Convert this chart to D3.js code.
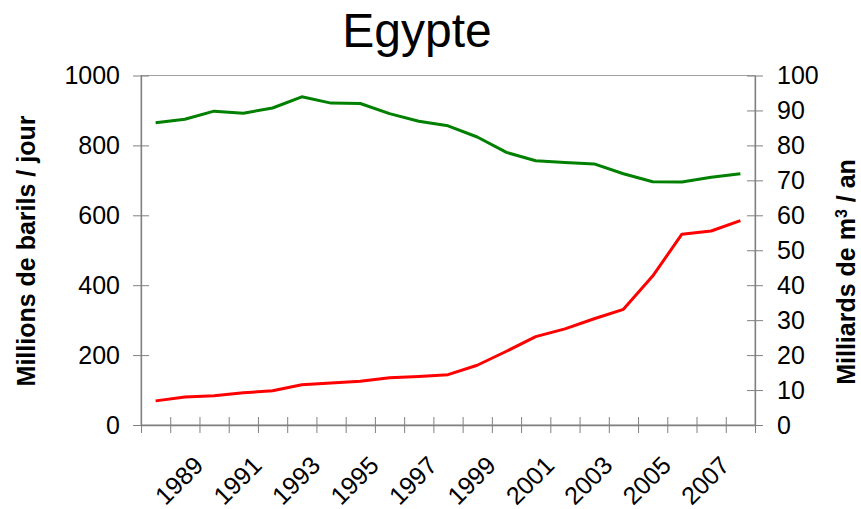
<!DOCTYPE html>
<html>
<head>
<meta charset="utf-8">
<script src="https://cdn.jsdelivr.net/npm/d3@7"></script>
<style>
  body { margin: 0; background: #fff; }
  text { font-family: "Liberation Sans", Arial, sans-serif; }
</style>
</head>
<body>
<div id="chart"></div>
<script>
// ---------------  DATA  ---------------
const years = [1988, 1989, 1990, 1991, 1992, 1993, 1994, 1995, 1996, 1997, 1998,
               1999, 2000, 2001, 2002, 2003, 2004, 2005, 2006, 2007, 2008];
const yearLabels = [1989, 1991, 1993, 1995, 1997, 1999, 2001, 2003, 2005, 2007];
const oil = [865, 875, 898, 892, 907, 939, 921, 920, 891, 869, 856,
             824, 780, 756, 751, 747, 719, 696, 695, 709, 719];
const gas = [6.9, 8.0, 8.4, 9.2, 9.8, 11.5, 12.0, 12.5, 13.5, 13.9, 14.4,
             17.1, 21.1, 25.3, 27.5, 30.4, 33.1, 42.6, 54.6, 55.5, 58.5];
const leftTicks = [0, 200, 400, 600, 800, 1000];
const rightTicks = [0, 10, 20, 30, 40, 50, 60, 70, 80, 90, 100];

// ---------------  INITIALIZATION  ---------------
const width = 861;
const height = 509;
const plot = { left: 141, right: 755, top: 75.5, bottom: 425 };

const svg = d3.select("#chart")
  .append("svg")
  .attr("width", width)
  .attr("height", height);

const x = d3.scaleBand()
  .domain(years)
  .range([plot.left, plot.right])
  .padding(0);
const xEdges = d3.scaleLinear()
  .domain([0, years.length])
  .range([plot.left, plot.right]);
const yLeft = d3.scaleLinear().domain([0, 1000]).range([plot.bottom, plot.top]);
const yRight = d3.scaleLinear().domain([0, 100]).range([plot.bottom, plot.top]);

// plot border
svg.append("rect")
  .attr("x", plot.left)
  .attr("y", plot.top)
  .attr("width", plot.right - plot.left)
  .attr("height", plot.bottom - plot.top)
  .attr("fill", "none")
  .attr("stroke", "#a0a0a0")
  .attr("stroke-width", 1);

// ---------------  AXES  ---------------
function styleAxis(g, horizontal) {
  g.select(".domain").attr("stroke", "#808080").attr("stroke-width", 1.3);
  g.selectAll(".tick line")
    .attr("stroke", "#808080")
    .attr(horizontal ? "y1" : "x1", -8)
    .attr(horizontal ? "y2" : "x2", 8);
  g.selectAll(".tick text")
    .attr("fill", "#000")
    .style("font-size", "25px");
}

const gLeft = svg.append("g")
  .attr("transform", `translate(${plot.left},0)`)
  .call(d3.axisLeft(yLeft).tickValues(leftTicks).tickFormat(d3.format("d"))
    .tickSize(0).tickPadding(21).tickSizeOuter(0));
styleAxis(gLeft, false);

const gRight = svg.append("g")
  .attr("transform", `translate(${plot.right},0)`)
  .call(d3.axisRight(yRight).tickValues(rightTicks).tickFormat(d3.format("d"))
    .tickSize(0).tickPadding(22).tickSizeOuter(0));
styleAxis(gRight, false);

const gBottom = svg.append("g")
  .attr("transform", `translate(0,${plot.bottom})`)
  .call(d3.axisBottom(xEdges).tickValues(d3.range(years.length + 1)).tickFormat("")
    .tickSize(0).tickSizeOuter(0));
styleAxis(gBottom, true);

// rotated year labels
svg.append("g")
  .selectAll("text")
  .data(yearLabels)
  .enter()
  .append("text")
  .attr("transform", d => `translate(${x(d) + x.bandwidth() / 2 + 20},467) rotate(-45)`)
  .attr("text-anchor", "end")
  .style("font-size", "25px")
  .attr("fill", "#000")
  .text(d => d);

// ---------------  LINES  ---------------
const lineOil = d3.line()
  .x((d, i) => x(years[i]) + x.bandwidth() / 2)
  .y(d => yLeft(d));
const lineGas = d3.line()
  .x((d, i) => x(years[i]) + x.bandwidth() / 2)
  .y(d => yRight(d));

svg.append("path")
  .datum(oil)
  .attr("d", lineOil)
  .attr("fill", "none")
  .attr("stroke", "#008000")
  .attr("stroke-width", 3)
  .attr("stroke-linejoin", "round");

svg.append("path")
  .datum(gas)
  .attr("d", lineGas)
  .attr("fill", "none")
  .attr("stroke", "#ff0000")
  .attr("stroke-width", 3)
  .attr("stroke-linejoin", "round");

// ---------------  TITLES  ---------------
svg.append("text")
  .attr("x", 417)
  .attr("y", 47)
  .attr("text-anchor", "middle")
  .style("font-size", "48px")
  .text("Egypte");

svg.append("text")
  .attr("transform", "translate(35,251) rotate(-90)")
  .attr("text-anchor", "middle")
  .style("font-size", "25px")
  .style("font-weight", "bold")
  .text("Millions de barils / jour");

const rt = svg.append("text")
  .attr("transform", "translate(855,272) rotate(-90)")
  .attr("text-anchor", "middle")
  .style("font-size", "25px")
  .style("font-weight", "bold");
rt.append("tspan").text("Milliards de m");
rt.append("tspan").attr("baseline-shift", "super").style("font-size", "16px").text("3");
rt.append("tspan").text(" / an");
</script>
</body>
</html>
